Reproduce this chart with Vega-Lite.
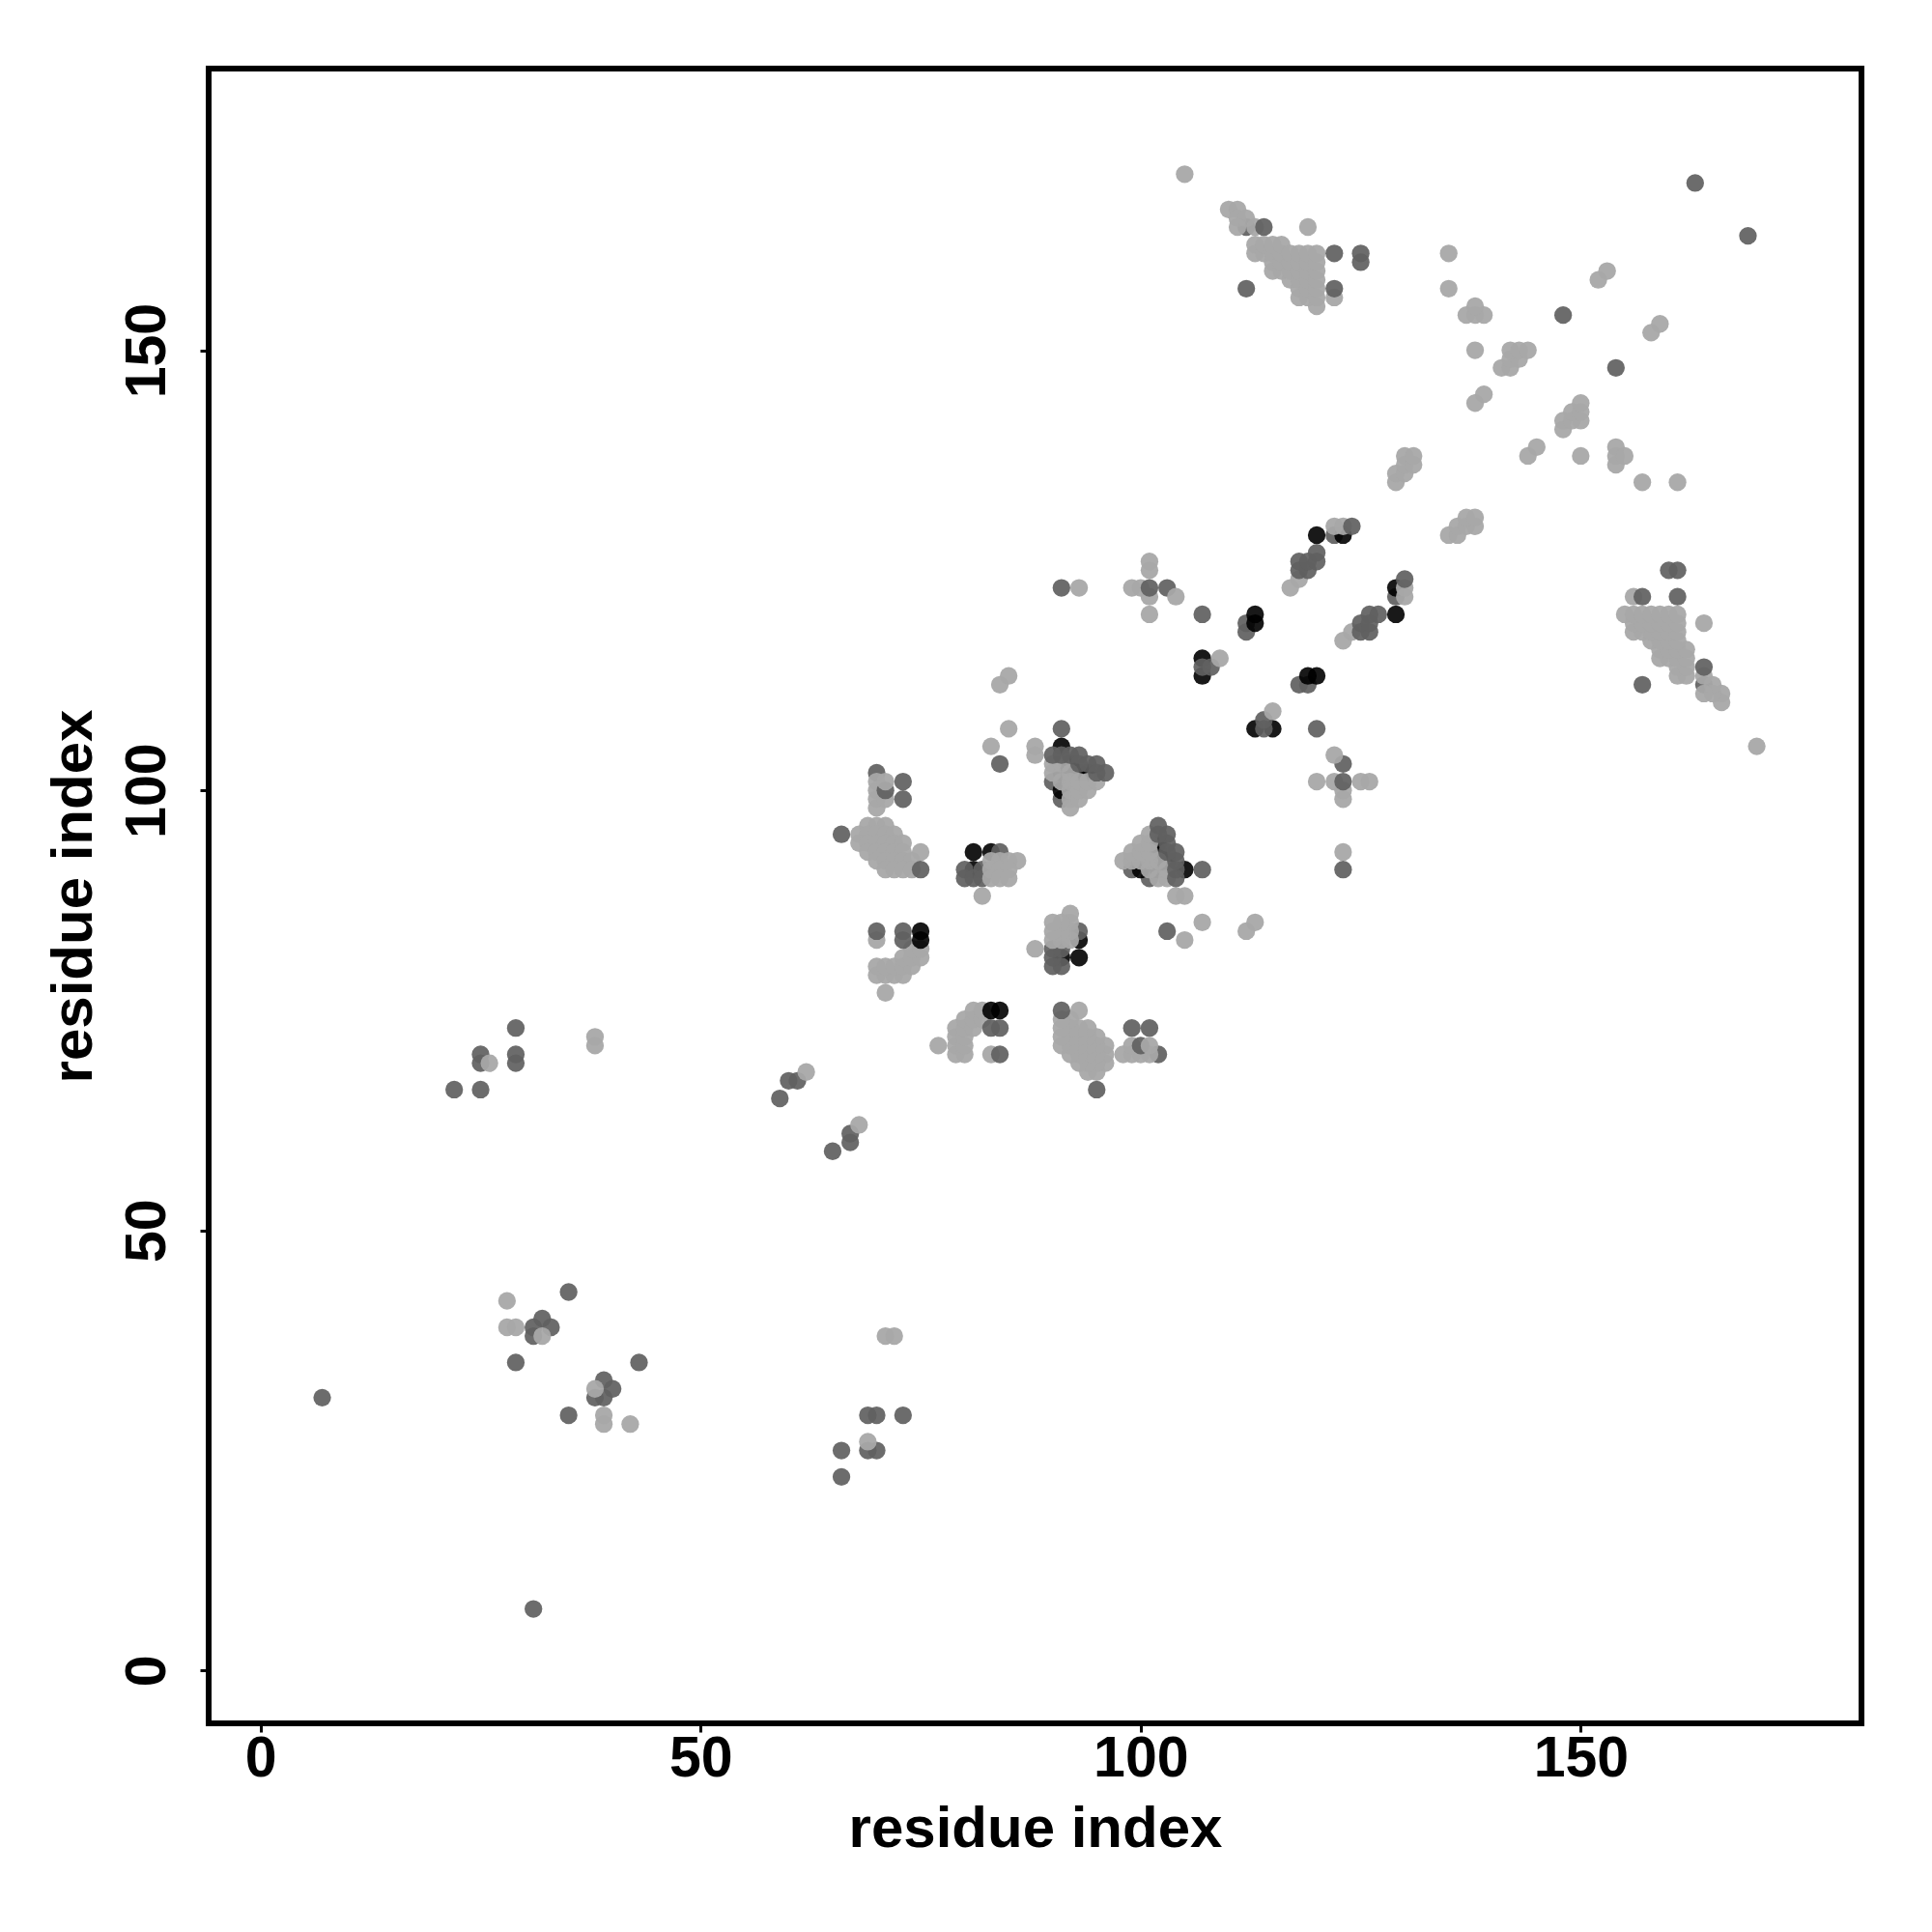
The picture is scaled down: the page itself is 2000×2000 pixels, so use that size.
{"$schema":"https://vega.github.io/schema/vega-lite/v6.json","autosize":{"type":"none"},"padding":{"left":216,"top":71,"right":73,"bottom":216},"width":1711,"height":1713,"background":"white","config":{"view":{"stroke":"black","strokeWidth":6,"fill":null},"axis":{"grid":false,"domain":false,"tickColor":"black","tickWidth":3,"tickSize":9,"labelColor":"black","titleColor":"black","labelFont":"Liberation Sans","titleFont":"Liberation Sans","labelFontWeight":"bold","titleFontWeight":"bold","labelFontSize":59,"titleFontSize":60}},
"data":{"values":[
{"x":7,"y":31,"k":"M"},{"x":22,"y":66,"k":"M"},{"x":25,"y":66,"k":"M"},{"x":25,"y":69,"k":"M"},{"x":25,"y":70,"k":"M"},{"x":26,"y":69,"k":"L"},{"x":29,"y":69,"k":"M"},{"x":29,"y":70,"k":"M"},{"x":29,"y":73,"k":"M"},{"x":38,"y":71,"k":"L"},{"x":38,"y":72,"k":"L"},
{"x":28,"y":42,"k":"L"},{"x":28,"y":39,"k":"L"},{"x":29,"y":39,"k":"L"},{"x":29,"y":35,"k":"M"},{"x":31,"y":38,"k":"M"},{"x":31,"y":39,"k":"M"},{"x":32,"y":40,"k":"M"},{"x":33,"y":39,"k":"M"},{"x":32,"y":38,"k":"L"},{"x":35,"y":43,"k":"M"},
{"x":59,"y":65,"k":"M"},{"x":60,"y":67,"k":"M"},{"x":61,"y":67,"k":"M"},{"x":62,"y":68,"k":"L"},{"x":66,"y":95,"k":"M"},
{"x":70,"y":102,"k":"M"},{"x":70,"y":101,"k":"L"},{"x":70,"y":100,"k":"L"},{"x":70,"y":99,"k":"L"},{"x":70,"y":98,"k":"L"},{"x":71,"y":99,"k":"L"},{"x":71,"y":100,"k":"M"},{"x":71,"y":101,"k":"L"},{"x":73,"y":101,"k":"M"},{"x":73,"y":99,"k":"M"},
{"x":69,"y":96,"k":"L"},{"x":70,"y":96,"k":"L"},{"x":71,"y":96,"k":"L"},{"x":68,"y":95,"k":"L"},{"x":69,"y":95,"k":"L"},{"x":70,"y":95,"k":"L"},{"x":71,"y":95,"k":"L"},{"x":72,"y":95,"k":"L"},{"x":68,"y":94,"k":"L"},{"x":69,"y":94,"k":"L"},{"x":70,"y":94,"k":"L"},{"x":71,"y":94,"k":"L"},{"x":72,"y":94,"k":"L"},{"x":73,"y":94,"k":"L"},{"x":69,"y":93,"k":"L"},{"x":70,"y":93,"k":"L"},{"x":71,"y":93,"k":"L"},{"x":72,"y":93,"k":"L"},{"x":73,"y":93,"k":"L"},{"x":75,"y":93,"k":"L"},{"x":70,"y":92,"k":"L"},{"x":71,"y":92,"k":"L"},{"x":72,"y":92,"k":"L"},{"x":73,"y":92,"k":"L"},{"x":74,"y":92,"k":"L"},{"x":71,"y":91,"k":"L"},{"x":72,"y":91,"k":"L"},{"x":73,"y":91,"k":"L"},{"x":74,"y":91,"k":"L"},{"x":75,"y":91,"k":"M"},
{"x":81,"y":93,"k":"D"},{"x":83,"y":93,"k":"D"},{"x":81,"y":91,"k":"D"},{"x":80,"y":91,"k":"M"},{"x":80,"y":90,"k":"M"},{"x":81,"y":90,"k":"M"},{"x":82,"y":91,"k":"M"},{"x":82,"y":90,"k":"M"},{"x":84,"y":93,"k":"M"},{"x":83,"y":92,"k":"L"},{"x":84,"y":92,"k":"L"},{"x":85,"y":92,"k":"L"},{"x":86,"y":92,"k":"L"},{"x":83,"y":91,"k":"L"},{"x":84,"y":91,"k":"L"},{"x":85,"y":91,"k":"L"},{"x":83,"y":90,"k":"L"},{"x":84,"y":90,"k":"L"},{"x":85,"y":90,"k":"L"},{"x":82,"y":88,"k":"L"},
{"x":70,"y":79,"k":"L"},{"x":71,"y":79,"k":"L"},{"x":72,"y":79,"k":"L"},{"x":73,"y":79,"k":"L"},{"x":70,"y":80,"k":"L"},{"x":71,"y":80,"k":"L"},{"x":72,"y":80,"k":"L"},{"x":73,"y":80,"k":"L"},{"x":74,"y":80,"k":"L"},{"x":73,"y":81,"k":"L"},{"x":74,"y":81,"k":"L"},{"x":75,"y":81,"k":"L"},{"x":74,"y":82,"k":"L"},{"x":75,"y":82,"k":"L"},{"x":71,"y":77,"k":"L"},{"x":70,"y":83,"k":"L"},{"x":70,"y":84,"k":"M"},{"x":73,"y":83,"k":"M"},{"x":73,"y":84,"k":"M"},{"x":75,"y":83,"k":"D"},{"x":75,"y":84,"k":"D"},
{"x":85,"y":107,"k":"L"},{"x":83,"y":105,"k":"L"},{"x":88,"y":104,"k":"L"},{"x":88,"y":105,"k":"L"},{"x":84,"y":103,"k":"M"},{"x":84,"y":112,"k":"L"},{"x":85,"y":113,"k":"L"},
{"x":91,"y":107,"k":"M"},{"x":91,"y":105,"k":"D"},{"x":90,"y":101,"k":"M"},{"x":91,"y":99,"k":"M"},{"x":91,"y":102,"k":"D"},{"x":91,"y":100,"k":"D"},{"x":92,"y":103,"k":"D"},{"x":93,"y":102,"k":"D"},{"x":94,"y":102,"k":"D"},
{"x":90,"y":102,"k":"L"},{"x":90,"y":103,"k":"L"},{"x":91,"y":101,"k":"L"},{"x":91,"y":103,"k":"L"},{"x":92,"y":98,"k":"L"},{"x":92,"y":99,"k":"L"},{"x":92,"y":100,"k":"L"},{"x":92,"y":101,"k":"L"},{"x":92,"y":102,"k":"L"},{"x":93,"y":99,"k":"L"},{"x":93,"y":100,"k":"L"},{"x":93,"y":101,"k":"L"},{"x":94,"y":100,"k":"L"},{"x":94,"y":101,"k":"L"},{"x":95,"y":101,"k":"L"},
{"x":90,"y":104,"k":"M"},{"x":91,"y":104,"k":"M"},{"x":92,"y":104,"k":"M"},{"x":93,"y":104,"k":"M"},{"x":93,"y":103,"k":"M"},{"x":94,"y":103,"k":"M"},{"x":95,"y":103,"k":"M"},{"x":95,"y":102,"k":"M"},{"x":96,"y":102,"k":"M"},
{"x":91,"y":123,"k":"M"},{"x":93,"y":123,"k":"L"},{"x":99,"y":123,"k":"L"},{"x":100,"y":123,"k":"L"},{"x":101,"y":125,"k":"L"},{"x":101,"y":126,"k":"L"},{"x":101,"y":122,"k":"L"},{"x":101,"y":120,"k":"L"},{"x":101,"y":123,"k":"M"},{"x":103,"y":123,"k":"M"},{"x":104,"y":122,"k":"L"},{"x":107,"y":120,"k":"M"},{"x":105,"y":170,"k":"L"},
{"x":107,"y":115,"k":"D"},{"x":107,"y":113,"k":"D"},{"x":107,"y":114,"k":"M"},{"x":108,"y":114,"k":"M"},{"x":109,"y":115,"k":"L"},{"x":112,"y":118,"k":"M"},{"x":112,"y":119,"k":"M"},{"x":113,"y":119,"k":"D"},{"x":113,"y":120,"k":"D"},
{"x":117,"y":123,"k":"L"},{"x":118,"y":124,"k":"L"},{"x":118,"y":125,"k":"M"},{"x":118,"y":126,"k":"M"},{"x":119,"y":125,"k":"M"},{"x":119,"y":126,"k":"M"},{"x":120,"y":126,"k":"M"},{"x":120,"y":127,"k":"M"},{"x":120,"y":129,"k":"D"},{"x":122,"y":129,"k":"M"},{"x":123,"y":129,"k":"D"},{"x":122,"y":130,"k":"L"},{"x":123,"y":130,"k":"L"},{"x":124,"y":130,"k":"M"},
{"x":129,"y":135,"k":"L"},{"x":129,"y":136,"k":"L"},{"x":130,"y":136,"k":"L"},{"x":130,"y":137,"k":"L"},{"x":130,"y":138,"k":"L"},{"x":131,"y":137,"k":"L"},{"x":131,"y":138,"k":"L"},
{"x":135,"y":161,"k":"L"},{"x":135,"y":157,"k":"L"},{"x":137,"y":154,"k":"L"},{"x":138,"y":154,"k":"L"},{"x":139,"y":154,"k":"L"},{"x":138,"y":155,"k":"L"},{"x":138,"y":150,"k":"L"},{"x":138,"y":144,"k":"L"},{"x":139,"y":145,"k":"L"},{"x":141,"y":148,"k":"L"},{"x":142,"y":148,"k":"L"},{"x":142,"y":149,"k":"L"},{"x":143,"y":149,"k":"L"},{"x":142,"y":150,"k":"L"},{"x":143,"y":150,"k":"L"},{"x":144,"y":150,"k":"L"},{"x":148,"y":154,"k":"M"},{"x":152,"y":158,"k":"L"},{"x":153,"y":159,"k":"L"},{"x":163,"y":169,"k":"M"},
{"x":112,"y":164,"k":"M"},{"x":110,"y":166,"k":"L"},{"x":111,"y":166,"k":"L"},{"x":111,"y":165,"k":"L"},{"x":112,"y":165,"k":"L"},{"x":111,"y":164,"k":"L"},{"x":113,"y":164,"k":"L"},{"x":114,"y":164,"k":"M"},{"x":119,"y":164,"k":"L"},
{"x":113,"y":161,"k":"L"},{"x":113,"y":162,"k":"L"},{"x":114,"y":161,"k":"L"},{"x":114,"y":162,"k":"L"},{"x":115,"y":159,"k":"L"},{"x":115,"y":160,"k":"L"},{"x":115,"y":161,"k":"L"},{"x":115,"y":162,"k":"L"},{"x":116,"y":159,"k":"L"},{"x":116,"y":160,"k":"L"},{"x":116,"y":161,"k":"L"},{"x":116,"y":162,"k":"L"},{"x":117,"y":158,"k":"L"},{"x":117,"y":159,"k":"L"},{"x":117,"y":160,"k":"L"},{"x":117,"y":161,"k":"L"},{"x":118,"y":156,"k":"L"},{"x":118,"y":157,"k":"L"},{"x":118,"y":158,"k":"L"},{"x":118,"y":159,"k":"L"},{"x":118,"y":160,"k":"L"},{"x":118,"y":161,"k":"L"},{"x":119,"y":156,"k":"L"},{"x":119,"y":157,"k":"L"},{"x":119,"y":158,"k":"L"},{"x":119,"y":159,"k":"L"},{"x":119,"y":160,"k":"L"},{"x":119,"y":161,"k":"L"},{"x":120,"y":155,"k":"L"},{"x":120,"y":156,"k":"L"},{"x":120,"y":157,"k":"L"},{"x":120,"y":158,"k":"L"},{"x":120,"y":159,"k":"L"},{"x":120,"y":160,"k":"L"},{"x":120,"y":161,"k":"L"},
{"x":122,"y":161,"k":"M"},{"x":125,"y":161,"k":"M"},{"x":125,"y":160,"k":"M"},{"x":122,"y":156,"k":"L"},{"x":122,"y":157,"k":"M"},{"x":112,"y":157,"k":"M"},

{"x":31,"y":7,"k":"M"},{"x":66,"y":22,"k":"M"},{"x":66,"y":25,"k":"M"},{"x":69,"y":25,"k":"M"},{"x":70,"y":25,"k":"M"},{"x":69,"y":26,"k":"L"},{"x":69,"y":29,"k":"M"},{"x":70,"y":29,"k":"M"},{"x":73,"y":29,"k":"M"},{"x":71,"y":38,"k":"L"},{"x":72,"y":38,"k":"L"},
{"x":42,"y":28,"k":"L"},{"x":39,"y":28,"k":"L"},{"x":39,"y":29,"k":"L"},{"x":35,"y":29,"k":"M"},{"x":38,"y":31,"k":"M"},{"x":39,"y":31,"k":"M"},{"x":40,"y":32,"k":"M"},{"x":39,"y":33,"k":"M"},{"x":38,"y":32,"k":"L"},{"x":43,"y":35,"k":"M"},
{"x":65,"y":59,"k":"M"},{"x":67,"y":60,"k":"M"},{"x":67,"y":61,"k":"M"},{"x":68,"y":62,"k":"L"},{"x":95,"y":66,"k":"M"},
{"x":102,"y":70,"k":"M"},{"x":101,"y":70,"k":"L"},{"x":100,"y":70,"k":"L"},{"x":99,"y":70,"k":"L"},{"x":98,"y":70,"k":"L"},{"x":99,"y":71,"k":"L"},{"x":100,"y":71,"k":"M"},{"x":101,"y":71,"k":"L"},{"x":101,"y":73,"k":"M"},{"x":99,"y":73,"k":"M"},
{"x":96,"y":69,"k":"L"},{"x":96,"y":70,"k":"L"},{"x":96,"y":71,"k":"L"},{"x":95,"y":68,"k":"L"},{"x":95,"y":69,"k":"L"},{"x":95,"y":70,"k":"L"},{"x":95,"y":71,"k":"L"},{"x":95,"y":72,"k":"L"},{"x":94,"y":68,"k":"L"},{"x":94,"y":69,"k":"L"},{"x":94,"y":70,"k":"L"},{"x":94,"y":71,"k":"L"},{"x":94,"y":72,"k":"L"},{"x":94,"y":73,"k":"L"},{"x":93,"y":69,"k":"L"},{"x":93,"y":70,"k":"L"},{"x":93,"y":71,"k":"L"},{"x":93,"y":72,"k":"L"},{"x":93,"y":73,"k":"L"},{"x":93,"y":75,"k":"L"},{"x":92,"y":70,"k":"L"},{"x":92,"y":71,"k":"L"},{"x":92,"y":72,"k":"L"},{"x":92,"y":73,"k":"L"},{"x":92,"y":74,"k":"L"},{"x":91,"y":71,"k":"L"},{"x":91,"y":72,"k":"L"},{"x":91,"y":73,"k":"L"},{"x":91,"y":74,"k":"L"},{"x":91,"y":75,"k":"M"},
{"x":93,"y":81,"k":"D"},{"x":93,"y":83,"k":"D"},{"x":91,"y":81,"k":"D"},{"x":91,"y":80,"k":"M"},{"x":90,"y":80,"k":"M"},{"x":90,"y":81,"k":"M"},{"x":91,"y":82,"k":"M"},{"x":90,"y":82,"k":"M"},{"x":93,"y":84,"k":"M"},{"x":92,"y":83,"k":"L"},{"x":92,"y":84,"k":"L"},{"x":92,"y":85,"k":"L"},{"x":92,"y":86,"k":"L"},{"x":91,"y":83,"k":"L"},{"x":91,"y":84,"k":"L"},{"x":91,"y":85,"k":"L"},{"x":90,"y":83,"k":"L"},{"x":90,"y":84,"k":"L"},{"x":90,"y":85,"k":"L"},{"x":88,"y":82,"k":"L"},
{"x":79,"y":70,"k":"L"},{"x":79,"y":71,"k":"L"},{"x":79,"y":72,"k":"L"},{"x":79,"y":73,"k":"L"},{"x":80,"y":70,"k":"L"},{"x":80,"y":71,"k":"L"},{"x":80,"y":72,"k":"L"},{"x":80,"y":73,"k":"L"},{"x":80,"y":74,"k":"L"},{"x":81,"y":73,"k":"L"},{"x":81,"y":74,"k":"L"},{"x":81,"y":75,"k":"L"},{"x":82,"y":74,"k":"L"},{"x":82,"y":75,"k":"L"},{"x":77,"y":71,"k":"L"},{"x":83,"y":70,"k":"L"},{"x":84,"y":70,"k":"M"},{"x":83,"y":73,"k":"M"},{"x":84,"y":73,"k":"M"},{"x":83,"y":75,"k":"D"},{"x":84,"y":75,"k":"D"},
{"x":107,"y":85,"k":"L"},{"x":105,"y":83,"k":"L"},{"x":104,"y":88,"k":"L"},{"x":105,"y":88,"k":"L"},{"x":103,"y":84,"k":"M"},{"x":112,"y":84,"k":"L"},{"x":113,"y":85,"k":"L"},
{"x":107,"y":91,"k":"M"},{"x":105,"y":91,"k":"D"},{"x":101,"y":90,"k":"M"},{"x":99,"y":91,"k":"M"},{"x":102,"y":91,"k":"D"},{"x":100,"y":91,"k":"D"},{"x":103,"y":92,"k":"D"},{"x":102,"y":93,"k":"D"},{"x":102,"y":94,"k":"D"},
{"x":102,"y":90,"k":"L"},{"x":103,"y":90,"k":"L"},{"x":101,"y":91,"k":"L"},{"x":103,"y":91,"k":"L"},{"x":98,"y":92,"k":"L"},{"x":99,"y":92,"k":"L"},{"x":100,"y":92,"k":"L"},{"x":101,"y":92,"k":"L"},{"x":102,"y":92,"k":"L"},{"x":99,"y":93,"k":"L"},{"x":100,"y":93,"k":"L"},{"x":101,"y":93,"k":"L"},{"x":100,"y":94,"k":"L"},{"x":101,"y":94,"k":"L"},{"x":101,"y":95,"k":"L"},
{"x":104,"y":90,"k":"M"},{"x":104,"y":91,"k":"M"},{"x":104,"y":92,"k":"M"},{"x":104,"y":93,"k":"M"},{"x":103,"y":93,"k":"M"},{"x":103,"y":94,"k":"M"},{"x":103,"y":95,"k":"M"},{"x":102,"y":95,"k":"M"},{"x":102,"y":96,"k":"M"},
{"x":123,"y":91,"k":"M"},{"x":123,"y":93,"k":"L"},{"x":123,"y":99,"k":"L"},{"x":123,"y":100,"k":"L"},{"x":125,"y":101,"k":"L"},{"x":126,"y":101,"k":"L"},{"x":122,"y":101,"k":"L"},{"x":120,"y":101,"k":"L"},{"x":123,"y":101,"k":"M"},{"x":123,"y":103,"k":"M"},{"x":122,"y":104,"k":"L"},{"x":120,"y":107,"k":"M"},{"x":170,"y":105,"k":"L"},
{"x":115,"y":107,"k":"D"},{"x":113,"y":107,"k":"D"},{"x":114,"y":107,"k":"M"},{"x":114,"y":108,"k":"M"},{"x":115,"y":109,"k":"L"},{"x":118,"y":112,"k":"M"},{"x":119,"y":112,"k":"M"},{"x":119,"y":113,"k":"D"},{"x":120,"y":113,"k":"D"},
{"x":123,"y":117,"k":"L"},{"x":124,"y":118,"k":"L"},{"x":125,"y":118,"k":"M"},{"x":126,"y":118,"k":"M"},{"x":125,"y":119,"k":"M"},{"x":126,"y":119,"k":"M"},{"x":126,"y":120,"k":"M"},{"x":127,"y":120,"k":"M"},{"x":129,"y":120,"k":"D"},{"x":129,"y":122,"k":"M"},{"x":129,"y":123,"k":"D"},{"x":130,"y":122,"k":"L"},{"x":130,"y":123,"k":"L"},{"x":130,"y":124,"k":"M"},
{"x":135,"y":129,"k":"L"},{"x":136,"y":129,"k":"L"},{"x":136,"y":130,"k":"L"},{"x":137,"y":130,"k":"L"},{"x":138,"y":130,"k":"L"},{"x":137,"y":131,"k":"L"},{"x":138,"y":131,"k":"L"},
{"x":161,"y":135,"k":"L"},{"x":157,"y":135,"k":"L"},{"x":154,"y":137,"k":"L"},{"x":154,"y":138,"k":"L"},{"x":154,"y":139,"k":"L"},{"x":155,"y":138,"k":"L"},{"x":150,"y":138,"k":"L"},{"x":144,"y":138,"k":"L"},{"x":145,"y":139,"k":"L"},{"x":148,"y":141,"k":"L"},{"x":148,"y":142,"k":"L"},{"x":149,"y":142,"k":"L"},{"x":149,"y":143,"k":"L"},{"x":150,"y":142,"k":"L"},{"x":150,"y":143,"k":"L"},{"x":150,"y":144,"k":"L"},{"x":154,"y":148,"k":"M"},{"x":158,"y":152,"k":"L"},{"x":159,"y":153,"k":"L"},{"x":169,"y":163,"k":"M"},
{"x":164,"y":112,"k":"M"},{"x":166,"y":110,"k":"L"},{"x":166,"y":111,"k":"L"},{"x":165,"y":111,"k":"L"},{"x":165,"y":112,"k":"L"},{"x":164,"y":111,"k":"L"},{"x":164,"y":113,"k":"L"},{"x":164,"y":114,"k":"M"},{"x":164,"y":119,"k":"L"},
{"x":161,"y":113,"k":"L"},{"x":162,"y":113,"k":"L"},{"x":161,"y":114,"k":"L"},{"x":162,"y":114,"k":"L"},{"x":159,"y":115,"k":"L"},{"x":160,"y":115,"k":"L"},{"x":161,"y":115,"k":"L"},{"x":162,"y":115,"k":"L"},{"x":159,"y":116,"k":"L"},{"x":160,"y":116,"k":"L"},{"x":161,"y":116,"k":"L"},{"x":162,"y":116,"k":"L"},{"x":158,"y":117,"k":"L"},{"x":159,"y":117,"k":"L"},{"x":160,"y":117,"k":"L"},{"x":161,"y":117,"k":"L"},{"x":156,"y":118,"k":"L"},{"x":157,"y":118,"k":"L"},{"x":158,"y":118,"k":"L"},{"x":159,"y":118,"k":"L"},{"x":160,"y":118,"k":"L"},{"x":161,"y":118,"k":"L"},{"x":156,"y":119,"k":"L"},{"x":157,"y":119,"k":"L"},{"x":158,"y":119,"k":"L"},{"x":159,"y":119,"k":"L"},{"x":160,"y":119,"k":"L"},{"x":161,"y":119,"k":"L"},{"x":155,"y":120,"k":"L"},{"x":156,"y":120,"k":"L"},{"x":157,"y":120,"k":"L"},{"x":158,"y":120,"k":"L"},{"x":159,"y":120,"k":"L"},{"x":160,"y":120,"k":"L"},{"x":161,"y":120,"k":"L"},
{"x":161,"y":122,"k":"M"},{"x":161,"y":125,"k":"M"},{"x":160,"y":125,"k":"M"},{"x":156,"y":122,"k":"L"},{"x":157,"y":122,"k":"M"},{"x":157,"y":112,"k":"M"}
]},
"mark":{"type":"circle","stroke":null},
"encoding":{
"x":{"field":"x","type":"quantitative","scale":{"domain":[-5.9,181.9],"nice":false,"zero":false},"axis":{"values":[0,50,100,150],"format":"d","title":"residue index","labelPadding":-2,"titlePadding":14}},
"y":{"field":"y","type":"quantitative","scale":{"domain":[-6,182],"nice":false,"zero":false},"axis":{"values":[0,50,100,150],"format":"d","title":"residue index","labelAngle":270,"labelAlign":"center","labelBaseline":"bottom","labelPadding":25,"titlePadding":16}},
"color":{"field":"k","type":"nominal","legend":null,"scale":{"domain":["L","M","D"],"range":["#a8a8a8","#606060","#000000"]}},
"opacity":{"field":"k","type":"nominal","legend":null,"scale":{"domain":["L","M","D"],"range":[0.95,0.9,0.87]}},
"size":{"value":335}
}}
